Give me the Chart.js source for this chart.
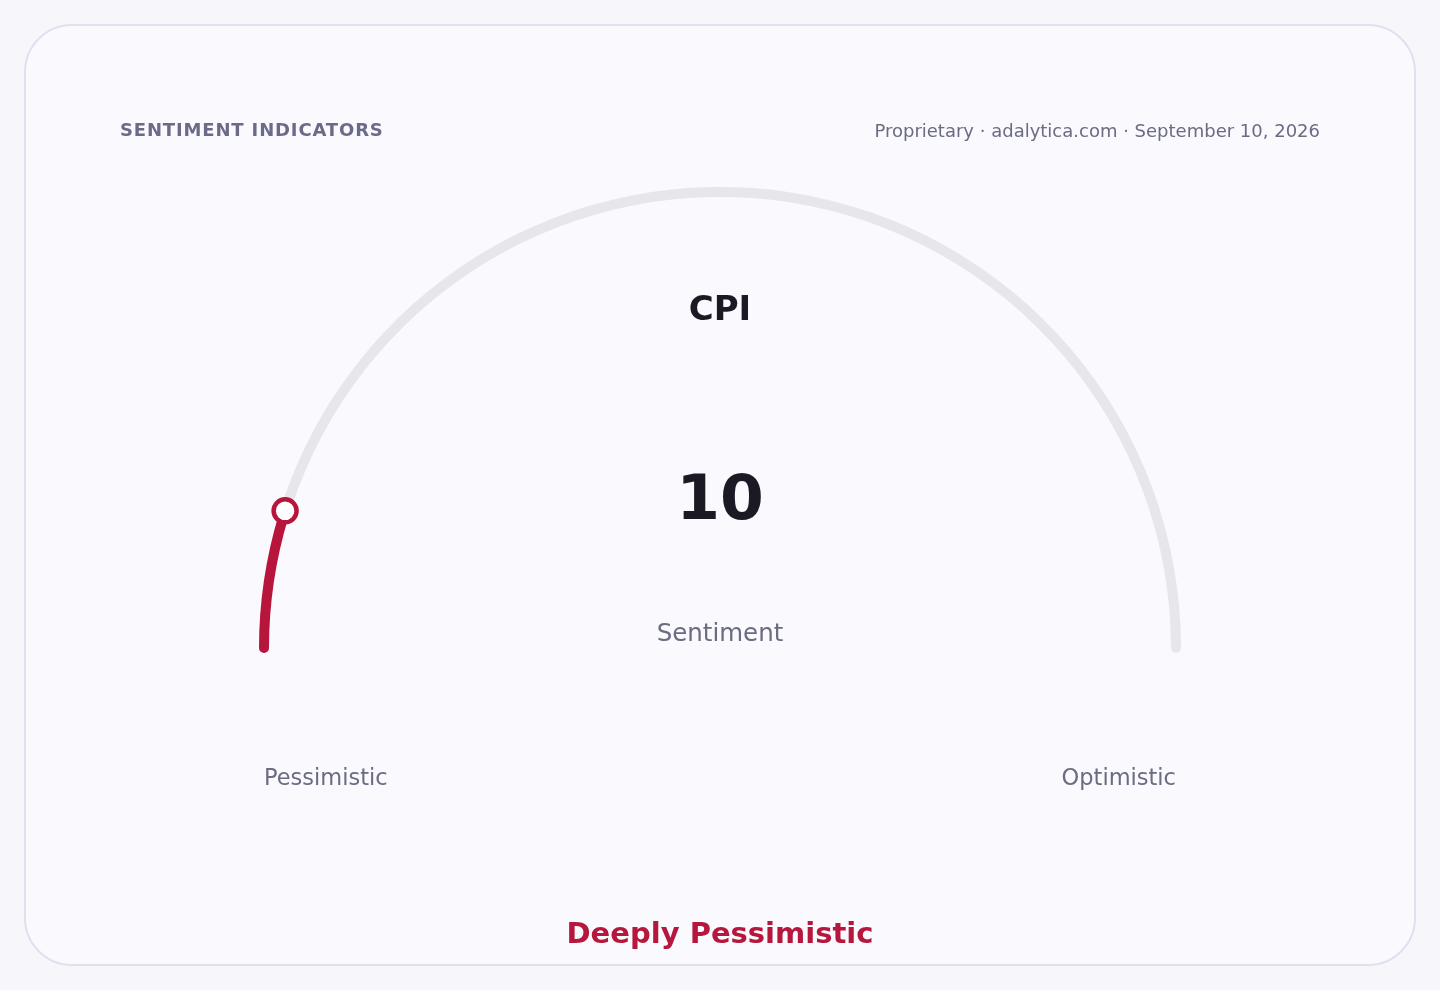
<!DOCTYPE html>
<html>
<head>
<meta charset="utf-8">
<script src="https://cdn.jsdelivr.net/npm/chart.js@4"></script>
<style>
  html, body { margin: 0; padding: 0; }
  body { width: 1440px; height: 990px; background: #f7f7fb; position: relative; overflow: hidden;
         font-family: "DejaVu Sans", sans-serif; }
  .card { position: absolute; left: 24px; top: 24px; width: 1392px; height: 942px; box-sizing: border-box;
          border: 2px solid #e0e0ee; border-radius: 48px; background: #f9f9fe; }
  .wrap { position: absolute; left: 0; top: 0; width: 1440px; height: 990px; }
  .t { position: absolute; white-space: nowrap; line-height: 1; }
  .title { left: 120px; top: 121px; font-size: 18px; font-weight: bold; letter-spacing: 0.85px; color: #6b6a88; }
  .source { right: 120px; top: 122px; font-size: 18px; color: #6b6b82; }
  .cpi { left: 720px; top: 308px; transform: translate(-50%, -50%); font-size: 34px; font-weight: bold; color: #1b1a24; }
  .val { left: 720px; top: 497px; transform: translate(-50%, -50%); font-size: 63px; font-weight: bold; color: #1b1a24; }
  .sent { left: 720px; top: 633px; transform: translate(-50%, -50%); font-size: 24.5px; color: #6b6b82; }
  .lo { left: 264px; top: 777px; transform: translate(0, -50%); font-size: 22.5px; color: #6b6b82; }
  .hi { right: 264px; top: 777px; transform: translate(0, -50%); font-size: 22.5px; color: #6b6b82; }
  .verdict { left: 720px; top: 933px; transform: translate(-50%, -50%); font-size: 29px; font-weight: bold; color: #b5173d; }
</style>
</head>
<body>
<div class="card"></div>
<div class="wrap"><canvas id="gauge"></canvas></div>
<div class="t title">SENTIMENT INDICATORS</div>
<div class="t source">Proprietary · adalytica.com · September 10, 2026</div>
<div class="t cpi" id="indName"></div>
<div class="t val" id="indValue"></div>
<div class="t sent">Sentiment</div>
<div class="t lo" id="lowLabel"></div>
<div class="t hi" id="highLabel"></div>
<div class="t verdict" id="verdict"></div>
<script>
// gauge data
const indicator = ['CPI'];
const sentimentValue = [10];
const scaleRange = [0, 100];
const endLabels = ['Pessimistic', 'Optimistic'];
const verdictText = ['Deeply Pessimistic'];

const RED = '#b8153d';
const TRACK = '#e6e6ec';
const CAP = 0.63; // degrees added at each end so the rounded caps stick out like a round line cap

document.getElementById('indName').textContent = indicator[0];
document.getElementById('indValue').textContent = sentimentValue[0];
document.getElementById('lowLabel').textContent = endLabels[0];
document.getElementById('highLabel').textContent = endLabels[1];
document.getElementById('verdict').textContent = verdictText[0];

const filled = sentimentValue[0] - scaleRange[0];
const rest = scaleRange[1] - sentimentValue[0];

// ring marker at the end of the value arc
const markerPlugin = {
    id: 'marker',
    afterDatasetsDraw(chart) {
        const arc = chart.getDatasetMeta(0).data[0];
        if (!arc) return;
        const r = (arc.innerRadius + arc.outerRadius) / 2;
        const mx = arc.x + Math.cos(arc.endAngle) * r;
        const my = arc.y + Math.sin(arc.endAngle) * r;
        const ctx = chart.ctx;
        ctx.save();
        ctx.beginPath();
        ctx.arc(mx, my, 11.5, 0, Math.PI * 2);
        ctx.fillStyle = '#ffffff';
        ctx.fill();
        ctx.lineWidth = 4.5;
        ctx.strokeStyle = RED;
        ctx.stroke();
        ctx.restore();
    }
};

new Chart(document.getElementById('gauge'), {
    type: 'doughnut',
    data: {
        labels: ['value', 'rest'],
        datasets: [{
            data: [filled, rest],
            backgroundColor: [RED, TRACK],
            borderWidth: 0,
            borderRadius: 5
        }]
    },
    options: {
        responsive: true,
        maintainAspectRatio: false,
        animation: false,
        rotation: -90 - CAP,
        circumference: 180 + 2 * CAP,
        radius: 461,
        cutout: '97.83%',
        layout: { padding: { left: 259, right: 259, top: 187, bottom: 337 } },
        plugins: {
            legend: { display: false },
            tooltip: { enabled: false }
        },
        events: []
    },
    plugins: [markerPlugin]
});
</script>
</body>
</html>
